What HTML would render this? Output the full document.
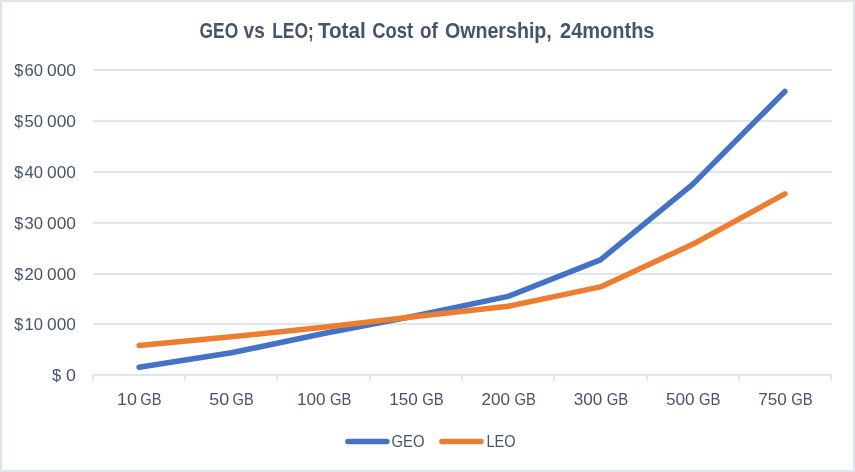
<!DOCTYPE html>
<html lang="en">
<head>
<meta charset="utf-8">
<title>GEO vs LEO; Total Cost of Ownership, 24months</title>
<style>
html,body{margin:0;padding:0;background:#fff;}
body{width:855px;height:472px;overflow:hidden;}
svg{display:block;}
text{font-family:"Liberation Sans",Arial,sans-serif;fill:#44546a;}
.t{font-weight:bold;font-size:21.2px;}
.a{font-size:16.8px;}
</style>
</head>
<body>
<svg width="855" height="472" viewBox="0 0 855 472">
<rect x="0" y="0" width="855" height="472" fill="#ffffff"/>
<rect x="1" y="1" width="853" height="470" fill="none" stroke="#dfe4ec" stroke-width="2"/>
<g fill="#e1e6ee">
<rect x="93" y="69" width="739" height="2"/>
<rect x="93" y="120" width="739" height="2"/>
<rect x="93" y="171" width="739" height="2"/>
<rect x="93" y="222" width="739" height="2"/>
<rect x="93" y="273" width="739" height="2"/>
<rect x="93" y="323" width="739" height="2"/>
<rect x="93" y="374" width="739" height="2"/>
<rect x="92" y="374" width="2" height="7"/>
<rect x="184" y="374" width="2" height="7"/>
<rect x="276" y="374" width="2" height="7"/>
<rect x="369" y="374" width="2" height="7"/>
<rect x="461" y="374" width="2" height="7"/>
<rect x="553" y="374" width="2" height="7"/>
<rect x="646" y="374" width="2" height="7"/>
<rect x="738" y="374" width="2" height="7"/>
<rect x="830" y="374" width="2" height="7"/>
</g>
<text class="t" y="38.0"><tspan x="199.60" textLength="38.59" lengthAdjust="spacingAndGlyphs">GEO</tspan> <tspan x="243.60" textLength="21.21" lengthAdjust="spacingAndGlyphs">vs</tspan> <tspan x="272.20" textLength="41.69" lengthAdjust="spacingAndGlyphs">LEO;</tspan> <tspan x="317.90" textLength="47.81" lengthAdjust="spacingAndGlyphs">Total</tspan> <tspan x="372.20" textLength="40.90" lengthAdjust="spacingAndGlyphs">Cost</tspan> <tspan x="420.00" textLength="17.76" lengthAdjust="spacingAndGlyphs">of</tspan> <tspan x="444.90" textLength="106.91" lengthAdjust="spacingAndGlyphs">Ownership,</tspan> <tspan x="560.00" textLength="94.50" lengthAdjust="spacingAndGlyphs">24months</tspan></text>
<text class="a" y="76.0"><tspan x="14.30" textLength="9.00" lengthAdjust="spacingAndGlyphs">$</tspan><tspan x="24.50" textLength="18.51" lengthAdjust="spacingAndGlyphs">60</tspan> <tspan x="47.10" textLength="28.91" lengthAdjust="spacingAndGlyphs">000</tspan></text>
<text class="a" y="127.0"><tspan x="14.30" textLength="9.00" lengthAdjust="spacingAndGlyphs">$</tspan><tspan x="24.50" textLength="18.51" lengthAdjust="spacingAndGlyphs">50</tspan> <tspan x="47.10" textLength="28.91" lengthAdjust="spacingAndGlyphs">000</tspan></text>
<text class="a" y="178.0"><tspan x="14.30" textLength="9.00" lengthAdjust="spacingAndGlyphs">$</tspan><tspan x="24.50" textLength="18.51" lengthAdjust="spacingAndGlyphs">40</tspan> <tspan x="47.10" textLength="28.91" lengthAdjust="spacingAndGlyphs">000</tspan></text>
<text class="a" y="229.0"><tspan x="14.30" textLength="9.00" lengthAdjust="spacingAndGlyphs">$</tspan><tspan x="24.50" textLength="18.51" lengthAdjust="spacingAndGlyphs">30</tspan> <tspan x="47.10" textLength="28.91" lengthAdjust="spacingAndGlyphs">000</tspan></text>
<text class="a" y="280.0"><tspan x="14.30" textLength="9.00" lengthAdjust="spacingAndGlyphs">$</tspan><tspan x="24.50" textLength="18.51" lengthAdjust="spacingAndGlyphs">20</tspan> <tspan x="47.10" textLength="28.91" lengthAdjust="spacingAndGlyphs">000</tspan></text>
<text class="a" y="330.0"><tspan x="14.30" textLength="9.00" lengthAdjust="spacingAndGlyphs">$</tspan><tspan x="24.50" textLength="18.51" lengthAdjust="spacingAndGlyphs">10</tspan> <tspan x="47.10" textLength="28.91" lengthAdjust="spacingAndGlyphs">000</tspan></text>
<text class="a" y="381.0"><tspan x="52.10" textLength="9.20" lengthAdjust="spacingAndGlyphs">$</tspan> <tspan x="66.10" textLength="9.90" lengthAdjust="spacingAndGlyphs">0</tspan></text>
<text class="a" y="404.9"><tspan x="117.03" textLength="19.91" lengthAdjust="spacingAndGlyphs">10</tspan> <tspan x="140.22" textLength="21.20" lengthAdjust="spacingAndGlyphs">GB</tspan></text>
<text class="a" y="404.9"><tspan x="209.28" textLength="19.91" lengthAdjust="spacingAndGlyphs">50</tspan> <tspan x="232.47" textLength="21.20" lengthAdjust="spacingAndGlyphs">GB</tspan></text>
<text class="a" y="404.9"><tspan x="297.02" textLength="28.51" lengthAdjust="spacingAndGlyphs">100</tspan> <tspan x="329.93" textLength="21.50" lengthAdjust="spacingAndGlyphs">GB</tspan></text>
<text class="a" y="404.9"><tspan x="389.27" textLength="28.51" lengthAdjust="spacingAndGlyphs">150</tspan> <tspan x="422.18" textLength="21.50" lengthAdjust="spacingAndGlyphs">GB</tspan></text>
<text class="a" y="404.9"><tspan x="481.52" textLength="28.51" lengthAdjust="spacingAndGlyphs">200</tspan> <tspan x="514.42" textLength="21.50" lengthAdjust="spacingAndGlyphs">GB</tspan></text>
<text class="a" y="404.9"><tspan x="573.77" textLength="28.51" lengthAdjust="spacingAndGlyphs">300</tspan> <tspan x="606.67" textLength="21.50" lengthAdjust="spacingAndGlyphs">GB</tspan></text>
<text class="a" y="404.9"><tspan x="666.02" textLength="28.51" lengthAdjust="spacingAndGlyphs">500</tspan> <tspan x="698.92" textLength="21.50" lengthAdjust="spacingAndGlyphs">GB</tspan></text>
<text class="a" y="404.9"><tspan x="758.27" textLength="28.51" lengthAdjust="spacingAndGlyphs">750</tspan> <tspan x="791.17" textLength="21.50" lengthAdjust="spacingAndGlyphs">GB</tspan></text>
<polyline points="139.1,367.3 231.4,352.8 323.6,333.5 415.9,315.8 508.1,296.4 600.4,259.9 692.6,184.4 784.9,91.4" fill="none" stroke="#4472c4" stroke-width="5.5" stroke-linecap="round" stroke-linejoin="round"/>
<polyline points="139.1,345.4 231.4,336.8 323.6,327.3 415.9,316.4 508.1,306.2 600.4,286.9 692.6,244.3 784.9,193.9" fill="none" stroke="#ed7d31" stroke-width="5.5" stroke-linecap="round" stroke-linejoin="round"/>
<line x1="347.95" y1="441.5" x2="386.85" y2="441.5" stroke="#4472c4" stroke-width="5.5" stroke-linecap="round"/>
<text class="a" y="447.2"><tspan x="391.50" textLength="33.09" lengthAdjust="spacingAndGlyphs">GEO</tspan></text>
<line x1="441.95" y1="441.5" x2="480.95" y2="441.5" stroke="#ed7d31" stroke-width="5.5" stroke-linecap="round"/>
<text class="a" y="447.2"><tspan x="486.50" textLength="29.20" lengthAdjust="spacingAndGlyphs">LEO</tspan></text>
</svg>
</body>
</html>
